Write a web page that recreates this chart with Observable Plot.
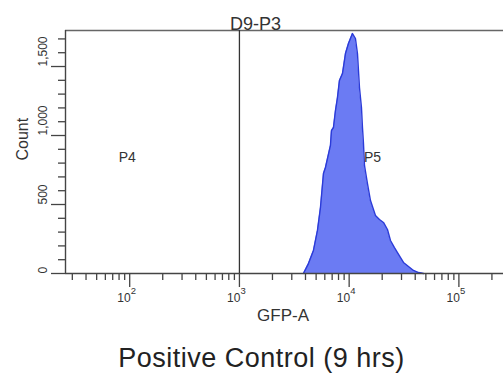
<!DOCTYPE html>
<html><head><meta charset="utf-8">
<script src="https://cdn.jsdelivr.net/npm/d3@7"></script>
<script src="https://cdn.jsdelivr.net/npm/@observablehq/plot@0.6"></script>
<style>
body{margin:0;background:#fff;width:503px;height:377px;overflow:hidden;font-family:"Liberation Sans",Arial,sans-serif}
#title{margin-top:10px;padding-left:20px;text-align:center;font-size:27px;line-height:27px;letter-spacing:0.5px;color:#222;white-space:nowrap}
</style></head><body>
<div id="chart"></div>
<div id="title"></div>
<script>
// Histogram outline: GFP-A value and event count
const gfp = [3831, 4256, 4727, 5141, 5476, 5832, 6081, 6752, 6898, 7193, 7502, 7823, 8157, 8690, 9254, 9854, 10718, 11414, 11906, 12159, 12417, 12947, 13224, 13505, 13791, 14686, 15643, 17367, 18892, 20539, 22343, 23800, 25882, 27567, 31261, 34724, 38573, 42820, 47562];
const counts = [0, 72, 167, 312, 478, 725, 768, 928, 1036, 1058, 1181, 1275, 1399, 1449, 1594, 1667, 1739, 1703, 1594, 1471, 1348, 1203, 1058, 942, 783, 652, 529, 420, 391, 370, 319, 239, 188, 152, 80, 51, 22, 7, 0];

// Axis ticks
const majorX = [100, 1000, 10000, 100000];
const exponents = ["2", "3", "4", "5"];
const minorX = [30, 40, 50, 60, 70, 80, 90, 200, 300, 400, 500, 600, 700, 800, 900, 2000, 3000, 4000, 5000, 6000, 7000, 8000, 9000, 20000, 30000, 40000, 50000, 60000, 70000, 80000, 90000, 200000];
const majorY = [0, 500, 1000, 1500];
const minorY = [100, 200, 300, 400, 600, 700, 800, 900, 1100, 1200, 1300, 1400, 1600, 1700];
const xDomain = [26, 255000];
const yDomain = [0, 1761];

// Gate and labels
const gateX = [1000];
const popNames = ["P4", "P5"];
const popX = [95, 16300];
const popY = [840, 840];
const plotName = "D9-P3";
const plotNameX = 1400;
const xLabel = "GFP-A";
const xLabelX = 2500;
const yLabel = "Count";
const yLabelY = 819;
const caption = "Positive Control (9 hrs)";

const hist = gfp.map((g, i) => ({g, c: counts[i]}));
const axisStroke = "#444";

const chart = Plot.plot({
  width: 503,
  height: 335,
  marginTop: 30,
  marginLeft: 65,
  marginRight: 0,
  marginBottom: 62,
  style: {fontFamily: "Liberation Sans, Arial, sans-serif", fontSize: "12px", color: "#333", background: "#fff", display: "block", overflow: "visible"},
  x: {type: "log", domain: xDomain},
  y: {domain: yDomain},
  marks: [
    Plot.areaY(hist, {x: "g", y: "c", fill: "#6b7bf3"}),
    Plot.line(hist, {x: "g", y: "c", stroke: "#2b3bd8", strokeWidth: 1.4}),
    Plot.ruleY([yDomain[1]], {stroke: "#666", strokeWidth: 1.6}),
    Plot.ruleX([xDomain[0]], {stroke: axisStroke, strokeWidth: 1.4}),
    Plot.ruleY([0], {stroke: axisStroke, strokeWidth: 1.4}),
    Plot.ruleX(gateX, {stroke: "#333", strokeWidth: 1.3}),
    Plot.axisX(minorX, {tickSize: 7, tickFormat: () => "", label: null, stroke: axisStroke, strokeWidth: 1.3}),
    Plot.axisX(majorX, {tickSize: 14, tickFormat: () => "", label: null, stroke: axisStroke, strokeWidth: 1.3}),
    Plot.axisY(minorY, {tickSize: 7, tickFormat: () => "", label: null, stroke: axisStroke, strokeWidth: 1.3}),
    Plot.axisY(majorY, {tickSize: 14, tickFormat: () => "", label: null, stroke: axisStroke, strokeWidth: 1.3}),
    Plot.text(majorX, {x: d => d, text: () => "10", frameAnchor: "bottom", dy: 28, dx: 1, textAnchor: "end", fontSize: 12, fill: "#333"}),
    Plot.text(majorX, {x: d => d, text: (d, i) => exponents[i], frameAnchor: "bottom", dy: 20, dx: 1, textAnchor: "start", fontSize: 9.5, fill: "#333"}),
    Plot.text(majorY, {y: d => d, text: d => d3.format(",")(d), frameAnchor: "left", dx: -22, rotate: -90, fontSize: 12, fill: "#333"}),
    Plot.text([xLabel], {x: () => xLabelX, text: d => d, frameAnchor: "bottom", dy: 47, fontSize: 17, fill: "#333"}),
    Plot.text([yLabel], {y: () => yLabelY, text: d => d, frameAnchor: "left", dx: -43, rotate: -90, fontSize: 16, fill: "#333"}),
    Plot.text([plotName], {x: () => plotNameX, text: d => d, frameAnchor: "top", dy: -13, fontSize: 18, fill: "#333"}),
    Plot.text(popNames, {x: (d, i) => popX[i], y: (d, i) => popY[i], text: d => d, fontSize: 14, fill: "#333"})
  ]
});
document.getElementById("chart").append(chart);
document.getElementById("title").textContent = caption;
</script>
</body></html>
